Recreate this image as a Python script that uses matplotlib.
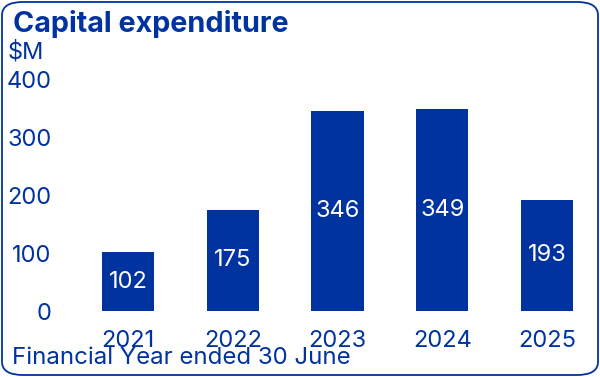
import matplotlib.pyplot as plt
import matplotlib.patches as patches

plt.rcParams['font.family'] = ['Inter', 'DejaVu Sans']

years = ["2021", "2022", "2023", "2024", "2025"]
capex = [102, 175, 346, 349, 193]
yticks = [0, 100, 200, 300, 400]

blue = '#0033A0'

fig = plt.figure(figsize=(6, 3.77), dpi=100)
ax = fig.add_axes([60/600, 66/377, 530/600, 231/377])

x = range(len(years))
bars = ax.bar(x, capex, width=0.5, color=blue)
for xi, v in zip(x, capex):
    ax.text(xi, v / 2, str(v), ha='center', va='center', color='white', fontsize=17)

ax.set_xlim(-0.649, 4.41)
ax.set_ylim(0, 400)
ax.set_yticks(yticks)
ax.set_xticks(list(x))
ax.set_xticklabels(years)
ax.tick_params(axis='both', length=0, colors=blue, labelsize=17)
ax.tick_params(axis='y', pad=6)
ax.tick_params(axis='x', pad=14)
for s in ax.spines.values():
    s.set_visible(False)

fig.text(13/600, 1 - 24/377, "Capital expenditure", fontsize=20.7, fontweight='bold',
         color=blue, ha='left', va='center')
fig.text(8/600, 1 - 52/377, "$M", fontsize=17, color=blue, ha='left', va='center')
fig.text(12/600, 1 - 358/377, "Financial Year ended 30 June", fontsize=17.3, color=blue,
         ha='left', va='center')

border = patches.FancyBboxPatch((2/600, 2/377), 596/600, 373/377,
                                boxstyle="round,pad=0,rounding_size=0.035",
                                transform=fig.transFigure, fill=False,
                                edgecolor=blue, linewidth=1.3)
fig.patches.append(border)

fig.savefig("out.png", dpi=100)
